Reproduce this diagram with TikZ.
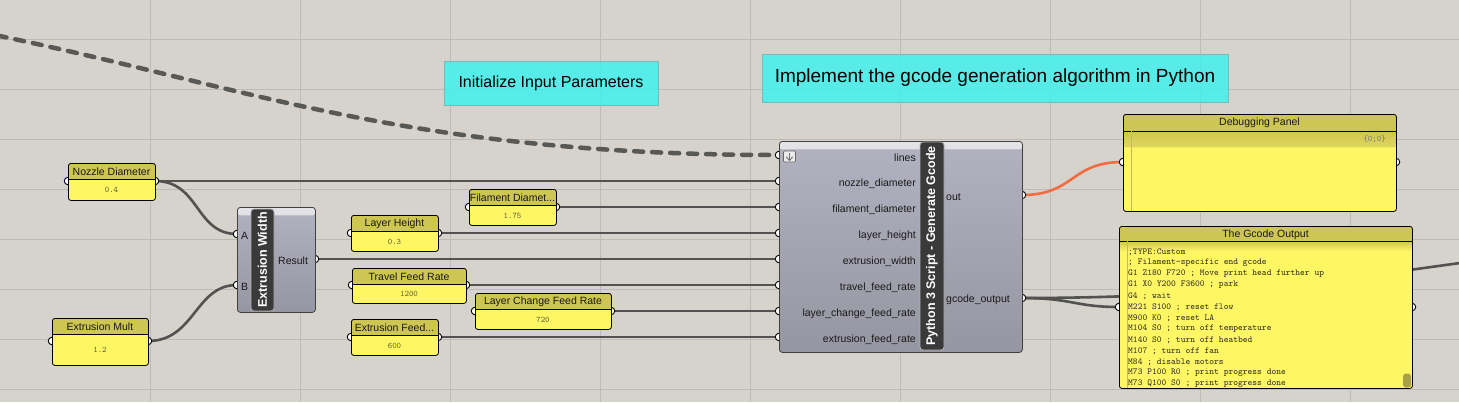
\documentclass[tikz,border=0pt]{standalone}
\usepackage{fontspec}
\setmainfont{Liberation Sans}
\newfontfamily\monofont{Liberation Mono}
\pgfdeclarelayer{gridlayer}
\pgfdeclarelayer{wirelayer}
\pgfdeclarelayer{portlayer}
\pgfsetlayers{gridlayer,wirelayer,portlayer,main}
\definecolor{bgc}{RGB}{214,210,204}
\definecolor{gridc}{RGB}{190,186,180}
\definecolor{wirec}{RGB}{82,82,80}
\definecolor{dashc}{RGB}{88,88,85}
\definecolor{orangec}{RGB}{242,108,66}
\definecolor{pbody}{RGB}{255,246,100}
\definecolor{phead}{RGB}{206,198,82}
\definecolor{pband1}{RGB}{206,198,82}
\definecolor{pband2}{RGB}{224,215,92}
\definecolor{pline}{RGB}{196,188,90}
\definecolor{comptop}{RGB}{178,178,192}
\definecolor{compbot}{RGB}{150,150,162}
\definecolor{stripT}{RGB}{228,228,232}
\definecolor{stripB}{RGB}{190,190,200}
\definecolor{barc}{RGB}{58,58,58}
\definecolor{cyanc}{RGB}{66,241,237}
\definecolor{cyanb}{RGB}{120,185,185}
\definecolor{valc}{RGB}{95,95,60}
\definecolor{codec}{RGB}{50,50,35}
\definecolor{scrc}{RGB}{170,160,72}
\newcommand\hdrh{16}
\newcommand\ghparam[8]{%
  \node[parambox, minimum width={(#4-#2)*1pt}, minimum height={(#5-#3)*1pt}] (#1) at (#2,#3) {};
  \node[lbl] (#1-t) at ({(#2+#4)/2},{#3+9}) {#6};
  \node[val] (#1-v) at ({(#2+#4)/2},{(#3+16+#5)/2+0.5}) {#7};
  \begin{pgfonlayer}{portlayer}
    \node[port] (#1-in) at (#2,#8) {};
    \node[port] (#1-out) at (#4,#8) {};
  \end{pgfonlayer}}
\tikzset{
  hdrh/.store in=\hdrh,
  gridline/.style={draw=gridc, line width=0.8pt},
  wire/.style={draw=wirec, line width=2.6pt},
  dashwire/.style={draw=dashc, line width=4.5pt, dash pattern=on 9pt off 9pt, line cap=round},
  orangewire/.style={draw=orangec, line width=2.6pt},
  port/.style={circle, draw=black, fill=white, line width=0.9pt, minimum size=7.5pt, inner sep=0pt},
  lbl/.style={font=\fontsize{10.5}{12}\selectfont, text=black!90, inner sep=0pt},
  val/.style={font=\ttfamily\fontsize{8.5}{10}\selectfont, text=valc, inner sep=0pt},
  note/.style={fill=cyanc, fill opacity=0.85, text opacity=1, draw=cyanb, line width=0.8pt, inner sep=0pt},
  parambox/.style={draw=black, line width=0.8pt, fill=pbody, rounded corners=2.5pt, anchor=north west, inner sep=0pt,
    path picture={
      \fill[phead] (path picture bounding box.north west) rectangle ([yshift={-\hdrh*1pt}]path picture bounding box.north east);
      \draw[line width=0.8pt] ([yshift={-\hdrh*1pt}]path picture bounding box.north west) -- ([yshift={-\hdrh*1pt}]path picture bounding box.north east);}},
  compbox/.style={draw=black!75, line width=0.8pt, rounded corners=3pt, top color=comptop, bottom color=compbot, anchor=north west, inner sep=0pt,
    path picture={
      \shade[top color=stripT, bottom color=stripB] (path picture bounding box.north west) rectangle ([yshift=-8pt]path picture bounding box.north east);}},
  labelbar/.style={draw=black!30, fill=barc, rounded corners=3pt, line width=0.8pt, text=white, inner sep=0pt,
    font=\bfseries\fontsize{12.5}{14}\selectfont},
  dbgbox/.style={draw=black, line width=0.8pt, fill=pbody, rounded corners=2.5pt, anchor=north west, inner sep=0pt,
    path picture={
      \fill[phead] (path picture bounding box.north west) rectangle ([yshift=-17pt]path picture bounding box.north east);
      \shade[top color=pband1, bottom color=pband2] ([yshift=-17pt]path picture bounding box.north west) rectangle ([yshift=-33pt]path picture bounding box.north east);
      \draw[line width=0.8pt] ([yshift=-17pt]path picture bounding box.north west) -- ([yshift=-17pt]path picture bounding box.north east);
      \draw[draw=pline, line width=0.6pt] ([xshift=8pt,yshift=-17pt]path picture bounding box.north west) -- ([xshift=8pt]path picture bounding box.south west);}},
  gcbox/.style={draw=black, line width=0.8pt, fill=pbody, rounded corners=2.5pt, anchor=north west, inner sep=0pt,
    path picture={
      \fill[phead] (path picture bounding box.north west) rectangle ([yshift=-15pt]path picture bounding box.north east);
      \shade[top color=phead, bottom color=pbody] ([yshift=-15pt]path picture bounding box.north west) rectangle ([yshift=-25pt]path picture bounding box.north east);
      \draw[line width=0.8pt] ([yshift=-15pt]path picture bounding box.north west) -- ([yshift=-15pt]path picture bounding box.north east);
      \draw[draw=pline, line width=0.6pt] ([xshift=8pt,yshift=-15pt]path picture bounding box.north west) -- ([xshift=8pt]path picture bounding box.south west);}},
  code/.style={font=\ttfamily\fontsize{9.1}{11}\selectfont, text=codec, inner sep=0pt, anchor=west},
}
\begin{document}
\begin{tikzpicture}[x=1pt,y=-1pt]
\useasboundingbox (0,0) rectangle (1459,402);
% background and grid
\begin{pgfonlayer}{gridlayer}
  \fill[bgc] (0,0) rectangle (1459,402);
  \foreach \x in {150,300,...,1350} \draw[gridline] (\x,0) -- (\x,402);
  \foreach \y in {39,89,...,389} \draw[gridline] (0,\y) -- (1459,\y);
\end{pgfonlayer}

% notes
\node[note, minimum width=214pt, minimum height=44pt, font=\fontsize{16}{18}\selectfont] (note1) at (551,83) {Initialize Input Parameters};
\node[note, minimum width=466pt, minimum height=48pt, font=\fontsize{19}{22}\selectfont] (note2) at (995,78) {Implement the gcode generation algorithm in Python};

% parameters
\ghparam{nz}{68}{163}{155}{200}{Nozzle Diameter}{0.4}{181}
\ghparam{em}{52}{318}{148}{365}{Extrusion Mult}{1.2}{341}
\ghparam{fd}{469}{189}{556}{225}{Filament Diamet...}{1.75}{207}
\ghparam{lh}{351}{215}{438}{251}{Layer Height}{0.3}{233}
\ghparam{tf}{352}{268}{466}{303}{Travel Feed Rate}{1200}{285}
\ghparam{lc}{475}{293}{611}{329}{Layer Change Feed Rate}{720}{311}
\ghparam{ef}{351}{319}{438}{355}{Extrusion Feed...}{600}{337}

% Extrusion Width component
\node[compbox, minimum width=78pt, minimum height=105pt] (ew) at (237,207) {};
\node[labelbar, rotate=90, minimum width=102pt, minimum height=23pt] (ewbar) at (262.5,260) {Extrusion Width};
\node[lbl, anchor=west] (ewA) at (241,236) {A};
\node[lbl, anchor=west] (ewB) at (241,287) {B};
\node[lbl, anchor=west] (ewR) at (278,261) {Result};
\begin{pgfonlayer}{portlayer}
  \node[port] (ew-a) at (237,234) {};
  \node[port] (ew-b) at (237,285) {};
  \node[port] (ew-out) at (315,259) {};
\end{pgfonlayer}

% Python component
\node[compbox, minimum width=243pt, minimum height=211pt] (py) at (779,141) {};
\node[labelbar, rotate=90, minimum width=208pt, minimum height=24pt] (pybar) at (932,246) {Python 3 Script - Generate Gcode};
\node[draw=black!60, fill=black!8, rounded corners=1pt, line width=0.6pt, minimum width=12pt, minimum height=11pt, inner sep=0pt] (dnicon) at (789.5,156.5) {};
\draw[black!55, line width=1pt] (789.5,152.5) -- (789.5,160);
\draw[black!55, line width=1pt, line cap=round, line join=round] (786.5,157) -- (789.5,160.5) -- (792.5,157);
\node[lbl, anchor=east] (pyl1) at (916,158) {lines};
\node[lbl, anchor=east] (pyl2) at (916,184) {nozzle\_diameter};
\node[lbl, anchor=east] (pyl3) at (916,210) {filament\_diameter};
\node[lbl, anchor=east] (pyl4) at (916,236) {layer\_height};
\node[lbl, anchor=east] (pyl5) at (916,262) {extrusion\_width};
\node[lbl, anchor=east] (pyl6) at (916,288) {travel\_feed\_rate};
\node[lbl, anchor=east] (pyl7) at (916,314) {layer\_change\_feed\_rate};
\node[lbl, anchor=east] (pyl8) at (916,340) {extrusion\_feed\_rate};
\node[lbl, anchor=west] (pyo1) at (946,197) {out};
\node[lbl, anchor=west] (pyo2) at (946,300) {gcode\_output};
\begin{pgfonlayer}{portlayer}
  \node[port] (py-lines) at (779,155) {};
  \node[port] (py-nozzle) at (779,181) {};
  \node[port] (py-fil) at (779,207) {};
  \node[port] (py-lh) at (779,233) {};
  \node[port] (py-extw) at (779,259) {};
  \node[port] (py-tf) at (779,285) {};
  \node[port] (py-lc) at (779,311) {};
  \node[port] (py-ef) at (779,337) {};
  \node[port] (py-out) at (1022,195) {};
  \node[port] (py-gc) at (1022,298) {};
\end{pgfonlayer}

% Debugging panel
\node[dbgbox, minimum width=273pt, minimum height=97pt] (dbg) at (1123,114) {};
\node[lbl] (dbgt) at (1259.5,123) {Debugging Panel};
\node[val, anchor=east, text=black!55] (dbgv) at (1386,139.5) {\{0;0\}};
\begin{pgfonlayer}{portlayer}
  \node[port] (dbg-in) at (1123,162) {};
  \node[port] (dbg-out) at (1396,162) {};
\end{pgfonlayer}

% Gcode output panel
\node[gcbox, minimum width=293pt, minimum height=162pt] (gc) at (1119,226) {};
\node[lbl] (gct) at (1265.5,234.5) {The Gcode Output};
\begin{scope}
  \clip (1120,242) rectangle (1411,387);
  \foreach \t [count=\i] in {;TYPE:Custom, ; Filament-specific end gcode, G1 Z180 F720 ; Move print head further up, G1 X0 Y200 F3600 ; park, G4 ; wait, M221 S100 ; reset flow, M900 K0 ; reset LA, M104 S0 ; turn off temperature, M140 S0 ; turn off heatbed, M107 ; turn off fan, M84 ; disable motors, M73 P100 R0 ; print progress done, M73 Q100 S0 ; print progress done}
    \node[code] (gcl\i) at (1128,{241+11*\i}) {\t};
\end{scope}
\node[fill=scrc, rounded corners=3pt, minimum width=8pt, minimum height=14pt, inner sep=0pt] (scroll) at (1407,380.5) {};
\begin{pgfonlayer}{portlayer}
  \node[port] (gc-in) at (1119,307) {};
  \node[port] (gc-out) at (1412,307) {};
\end{pgfonlayer}

% wires
\coordinate (dsrc) at (-20,32);
\coordinate (offR) at (1900,230);
\begin{pgfonlayer}{wirelayer}
  \draw[dashwire] (dsrc) .. controls (240,84) and (399,155) .. (py-lines.center);
  \draw[wire] (nz-out.center) -- (py-nozzle.center);
  \draw[wire] (nz-out.center) .. controls (200,181) and (195,234) .. (ew-a.center);
  \draw[wire] (em-out.center) .. controls (195,341) and (195,285) .. (ew-b.center);
  \draw[wire] (ew-out.center) -- (py-extw.center);
  \draw[wire] (fd-out.center) -- (py-fil.center);
  \draw[wire] (lh-out.center) -- (py-lh.center);
  \draw[wire] (tf-out.center) -- (py-tf.center);
  \draw[wire] (lc-out.center) -- (py-lc.center);
  \draw[wire] (ef-out.center) -- (py-ef.center);
  \draw[orangewire] (py-out.center) .. controls (1075,195) and (1070,162) .. (dbg-in.center);
  \draw[wire] (py-gc.center) .. controls (1072,298) and (1075,307) .. (gc-in.center);
  \draw[wire] (py-gc.center) .. controls (1400,298) and (1500,230) .. (offR);
\end{pgfonlayer}
\end{tikzpicture}
\end{document}
